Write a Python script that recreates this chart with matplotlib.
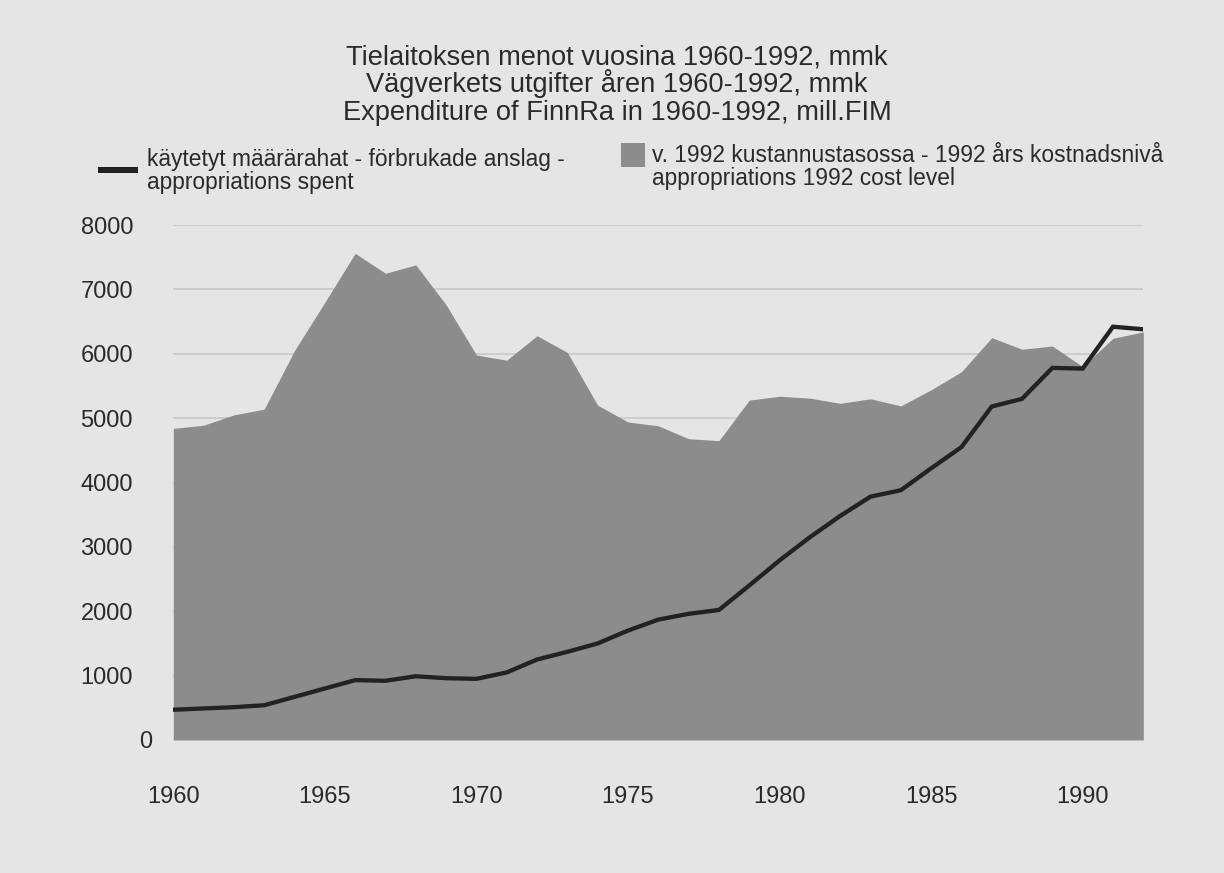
import matplotlib
matplotlib.use("Agg")
import matplotlib.pyplot as plt
from matplotlib.patches import Rectangle
import matplotlib.transforms as mtransforms

# ---- data ----
years = list(range(1960, 1993))
spent = [470, 490, 510, 540, 670, 800, 930, 920, 990, 960,
         950, 1050, 1250, 1370, 1500, 1700, 1870, 1960, 2020, 2400,
         2790, 3150, 3480, 3780, 3880, 4220, 4550, 5180, 5300, 5780,
         5770, 6420, 6380]
cost_level_1992 = [4840, 4890, 5050, 5140, 6050, 6800, 7560, 7250, 7380, 6760,
                   5980, 5900, 6280, 6020, 5200, 4940, 4880, 4680, 4650, 5280,
                   5340, 5310, 5230, 5300, 5190, 5440, 5720, 6250, 6070, 6120,
                   5800, 6240, 6340]
ytick_values = [0, 1000, 2000, 3000, 4000, 5000, 6000, 7000, 8000]
xtick_values = [1960, 1965, 1970, 1975, 1980, 1985, 1990]

title_lines = ["Tielaitoksen menot vuosina 1960-1992, mmk",
               "Vägverkets utgifter åren 1960-1992, mmk",
               "Expenditure of FinnRa in 1960-1992, mill.FIM"]
legend_line_text = ["käytetyt määrärahat - förbrukade anslag -",
                    "appropriations spent"]
legend_area_text = ["v. 1992 kustannustasossa - 1992 års kostnadsnivå",
                    "appropriations 1992 cost level"]

# ---- styling ----
BG = "#e5e5e5"
FILL = "#8c8c8c"
LINE = "#222222"
GRID = "#c6c6c6"
TXT = "#2a2a2a"
plt.rcParams['font.family'] = ['Liberation Sans', 'DejaVu Sans']

W, H = 1224, 873
fig = plt.figure(figsize=(W / 100, H / 100), dpi=100, facecolor=BG)

def fx(px):
    return px / W

def fy(py):
    return 1 - py / H

ax_left, ax_right, ax_top, ax_bottom = 173.3, 1143.3, 225.0, 740.0
ax = fig.add_axes([fx(ax_left), fy(ax_bottom), fx(ax_right - ax_left), (ax_bottom - ax_top) / H])
ax.set_facecolor(BG)
for s in ax.spines.values():
    s.set_visible(False)

ax.set_xlim(1960, 1992)
ax.set_ylim(0, 8000)

for v in ytick_values[1:]:
    ax.axhline(v, color=GRID, lw=1.1, zorder=0)

ax.fill_between(years, 0, cost_level_1992, color=FILL, lw=0, zorder=1)
ax.plot(years, spent, color=LINE, lw=3.1, solid_joinstyle='miter', zorder=2)

ax.set_yticks(ytick_values)
ax.set_yticklabels([str(v) for v in ytick_values])
ax.set_xticks(xtick_values)
ax.set_xticklabels([str(v) for v in xtick_values])
ax.tick_params(axis='both', length=0, labelsize=17, labelcolor=TXT)
ax.tick_params(axis='y', pad=29)
ax.tick_params(axis='x', pad=33)

# shift the "0" label to the right as in the reference
for lbl in ax.get_yticklabels():
    if lbl.get_text() == "0":
        lbl.set_transform(lbl.get_transform() + mtransforms.ScaledTranslation(19 / 100, 0, fig.dpi_scale_trans))

# ---- title ----
renderer = fig.canvas.get_renderer()
title_baselines = [64, 92, 120]
title_widths = [530, 505, 556]
title_objs = []
for txt, yb in zip(title_lines, title_baselines):
    t = fig.text(fx(617), fy(yb), txt, ha='center', va='baseline', fontsize=16, color=TXT)
    title_objs.append(t)
sizes = []
for t, w in zip(title_objs, title_widths):
    ww = t.get_window_extent(renderer).width
    sizes.append(16 * w / ww)
ts = sum(sizes) / len(sizes)
for t in title_objs:
    t.set_fontsize(ts)

# ---- legend ----
l1a = fig.text(fx(146.7), fy(166), legend_line_text[0], ha='left', va='baseline', fontsize=14, color=TXT)
ww = l1a.get_window_extent(renderer).width
ls = 14 * 421 / ww
l1a.set_fontsize(ls)
fig.text(fx(146.7), fy(189), legend_line_text[1], ha='left', va='baseline', fontsize=ls, color=TXT)
fig.text(fx(651.7), fy(162), legend_area_text[0], ha='left', va='baseline', fontsize=ls, color=TXT)
fig.text(fx(651.7), fy(185), legend_area_text[1], ha='left', va='baseline', fontsize=ls, color=TXT)

fig.add_artist(Rectangle((fx(98), fy(172.5)), fx(40), 5.5 / H, transform=fig.transFigure,
                         facecolor=LINE, edgecolor='none'))
fig.add_artist(Rectangle((fx(621), fy(167)), fx(24), 24 / H, transform=fig.transFigure,
                         facecolor=FILL, edgecolor='none'))

fig.savefig("out.png", dpi=100, facecolor=BG)
